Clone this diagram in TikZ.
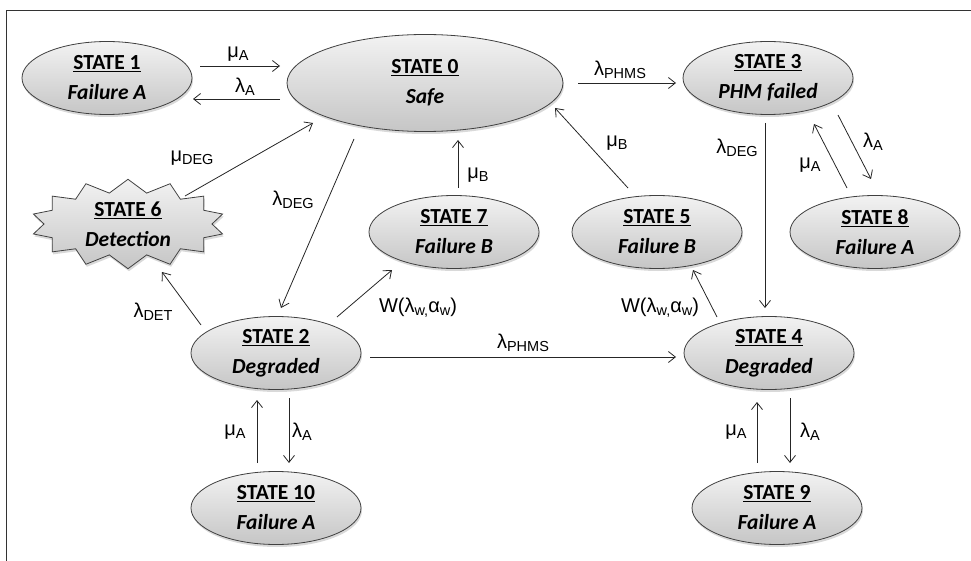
\documentclass[tikz,border=0pt]{standalone}
\usepackage{fontspec}
\setmainfont{Carlito}
\newfontfamily\arialf{Liberation Sans}
\usetikzlibrary{shapes.geometric,shapes.symbols,shadows,arrows.meta}
\newcommand\lbl[2]{{\arialf\fontsize{20}{22}\selectfont #1\raisebox{-3pt}{\fontsize{14.5}{15}\selectfont #2}}}
\newcommand\stxt[2]{\underline{STATE #1}\\\textit{#2}}
\tikzset{
  stnode/.style={ellipse, draw=black!75, line width=0.8pt, top color=gray!10, bottom color=gray!45,
    inner sep=0pt, minimum width=170pt, minimum height=73pt, align=center,
    font=\bfseries\fontsize{21.5}{30}\selectfont,
    drop shadow={shadow xshift=1pt, shadow yshift=-2.5pt, opacity=0.3}},
  arr/.style={-{Straight Barb[length=7pt,width=11pt]}, line width=0.8pt, black!85},
  lab/.style={inner sep=0pt}
}
\begin{document}
\begin{tikzpicture}[x=1pt,y=-1pt]
\useasboundingbox (0,0) rectangle (971,561);
\draw[line width=1.3pt, black!80] (6.5,561) -- (6.5,10.5) -- (971,10.5);

% nodes
\node[stnode, minimum width=276pt, minimum height=97pt] (S0) at (425,83) {\stxt{0}{Safe}};
\node[stnode] (S1) at (107,78) {\stxt{1}{Failure A}};
\node[stnode] (S3) at (768,78) {\stxt{3}{PHM failed}};
\node[stnode] (S7) at (454,232) {\stxt{7}{Failure B}};
\node[stnode] (S5) at (657,232) {\stxt{5}{Failure B}};
\node[stnode] (S8) at (875,232) {\stxt{8}{Failure A}};
\node[stnode] (S2) at (276,353) {\stxt{2}{Degraded}};
\node[stnode] (S4) at (769,353) {\stxt{4}{Degraded}};
\node[stnode] (S10) at (276,508) {\stxt{10}{Failure A}};
\node[stnode] (S9) at (777,508) {\stxt{9}{Failure A}};
\node[stnode, starburst, starburst points=14, starburst point height=13pt, random starburst=0,
      minimum width=194pt, minimum height=88pt] (S6) at (128,224) {\stxt{6}{Detection}};

% connectors
\draw[arr] ([shift={(93,-12)}]S1.center) -- ([shift={(-145,-17)}]S0.center);
\draw[arr] ([shift={(-145,16)}]S0.center) -- ([shift={(86,21)}]S1.center);
\draw[arr] ([shift={(153,0)}]S0.center) -- ([shift={(-92,5)}]S3.center);
\draw[arr] ([shift={(-29,-44)}]S5.center) -- ([shift={(130,25)}]S0.center);
\draw[arr] ([shift={(4,-44)}]S7.center) -- ([shift={(33,57)}]S0.center);
\draw[arr] ([shift={(57,-28)}]S6.center) -- ([shift={(-112,40)}]S0.center);
\draw[arr] ([shift={(-71,56)}]S0.center) -- ([shift={(5,-45)}]S2.center);
\draw[arr] ([shift={(-75,-28)}]S2.center) -- ([shift={(34,48)}]S6.center);
\draw[arr] ([shift={(61,-36)}]S2.center) -- ([shift={(-62,38)}]S7.center);
\draw[arr] ([shift={(94,4)}]S2.center) -- ([shift={(-93,4)}]S4.center);
\draw[arr] ([shift={(-52,-36)}]S4.center) -- ([shift={(36,38)}]S5.center);
\draw[arr] ([shift={(-3,45)}]S3.center) -- ([shift={(-4,-45)}]S4.center);
\draw[arr] ([shift={(-28,-44)}]S8.center) -- ([shift={(46,46)}]S3.center);
\draw[arr] ([shift={(70,37)}]S3.center) -- ([shift={(-4,-53)}]S8.center);
\draw[arr] ([shift={(-19,-45)}]S10.center) -- ([shift={(-19,47)}]S2.center);
\draw[arr] ([shift={(13,45)}]S2.center) -- ([shift={(13,-45)}]S10.center);
\draw[arr] ([shift={(-20,-45)}]S9.center) -- ([shift={(-12,49)}]S4.center);
\draw[arr] ([shift={(21,45)}]S4.center) -- ([shift={(13,-45)}]S9.center);

% labels
\node[lab] (l1) at (238,54) {\lbl{μ}{A}};
\node[lab] (l2) at (245,87) {\lbl{λ}{A}};
\node[lab] (l3) at (620,70) {\lbl{λ}{PHMS}};
\node[lab] (l4) at (617,143) {\lbl{μ}{B}};
\node[lab] (l5) at (478,175) {\lbl{μ}{B}};
\node[lab] (l6) at (192,158) {\lbl{μ}{DEG}};
\node[lab] (l7) at (293,200) {\lbl{λ}{DEG}};
\node[lab] (l8) at (153,312) {\lbl{λ}{DET}};
\node[lab] (l9) at (418,308) {\lbl{W(λ}{w,}\lbl{α}{w}\lbl{)}{}};
\node[lab] (l10) at (523,343) {\lbl{λ}{PHMS}};
\node[lab] (l11) at (660,308) {\lbl{W(λ}{w,}\lbl{α}{w}\lbl{)}{}};
\node[lab] (l12) at (737,148) {\lbl{λ}{DEG}};
\node[lab] (l13) at (810,165) {\lbl{μ}{A}};
\node[lab] (l14) at (873,142) {\lbl{λ}{A}};
\node[lab] (l15) at (235,432) {\lbl{μ}{A}};
\node[lab] (l16) at (302,432) {\lbl{λ}{A}};
\node[lab] (l17) at (736,432) {\lbl{μ}{A}};
\node[lab] (l18) at (810,432) {\lbl{λ}{A}};
\end{tikzpicture}
\end{document}
